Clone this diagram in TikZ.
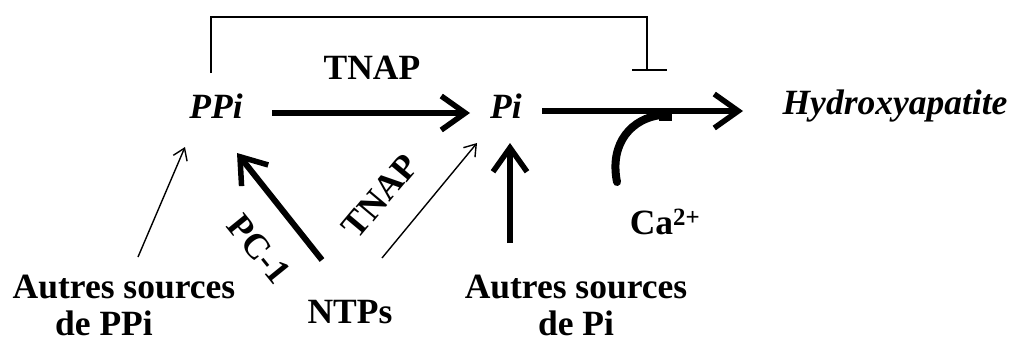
\documentclass[tikz,border=0pt]{standalone}
\usepackage{fontspec}
\setmainfont{Liberation Serif}
\usetikzlibrary{arrows.meta,calc}
\begin{document}
\begin{tikzpicture}[x=1pt,y=-1pt,
  lbl/.style={inner sep=0pt,font=\fontsize{35.5}{37}\selectfont\bfseries},
  ilbl/.style={inner sep=0pt,font=\fontsize{35.5}{37}\selectfont\bfseries\itshape},
  thickarrow/.style={line width=6pt,-{Straight Barb[length=24pt,width=34pt,line width=5.5pt]}},
  thinarrow/.style={line width=1.4pt,-{Straight Barb[length=11pt,width=15pt,line width=1.4pt]}},
  inhib/.style={line width=1.4pt}]
\useasboundingbox (0,0) rectangle (1016,343);
\node[ilbl] (ppi) at (216,106) {PPi};
\node[ilbl] (pi) at (506,106) {Pi};
\node[ilbl] (hyd) at (895,106) {Hydroxyapatite};
\node[lbl] (tnap) at (372,68) {TNAP};
\node[lbl] (ca) at (665,222) {Ca\textsuperscript{2+}};
\node[lbl,align=center] (srcppi) at (124,305) {Autres sources\\de PPi\hspace*{40pt}};
\node[lbl] (ntps) at (350,312) {NTPs};
\node[lbl,align=center] (srcpi) at (576,305) {Autres sources\\de Pi};
\node[lbl,rotate=-51] (pc1) at (259,249) {PC-1};
\node[lbl,rotate=50] (tnapb) at (380,196) {TNAP};
\coordinate (inh) at (647,70);
% main arrows
\draw[thickarrow] ($(ppi)+(56,7)$) -- ($(pi)+(-36,7)$);
\draw[thickarrow] ($(pi)+(36,5)$) -- ($(hyd)+(-152,5)$);
% inhibition
\draw[inhib] ($(ppi)+(-5,-33)$) |- ($(inh)+(0,-53)$) -- (inh);
\draw[inhib] ($(inh)+(-15,0)$) -- ($(inh)+(20,0)$);
% Ca curve
\draw[line width=8pt,line cap=round] ($(ca)+(-48,-40)$) .. controls ($(ca)+(-56,-80)$) and ($(ca)+(-32,-104)$) .. ($(ca)+(-4,-107)$);
\fill ($(ca)+(-6,-111)$) rectangle ($(ca)+(7,-101)$);
% bottom arrows
\draw[thinarrow] ($(srcppi)+(14,-48)$) -- ($(ppi)+(-31,41)$);
\draw[thickarrow] ($(ntps)+(-28,-52)$) -- ($(ppi)+(21,47)$);
\draw[thinarrow] ($(ntps)+(32,-54)$) -- ($(pi)+(-29,37)$);
\draw[thickarrow] ($(srcpi)+(-66,-62)$) -- ($(pi)+(4,37)$);
\end{tikzpicture}
\end{document}
